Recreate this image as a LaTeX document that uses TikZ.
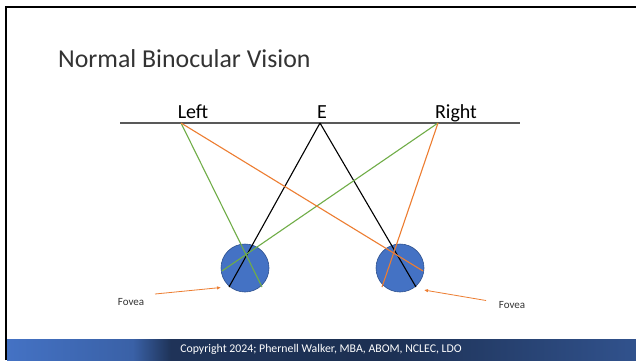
\documentclass[tikz,border=0pt]{standalone}
\usepackage{fontspec}
\setmainfont{Carlito}
\usetikzlibrary{arrows.meta}

\definecolor{eyeblue}{HTML}{4472C4}
\definecolor{eyeedge}{HTML}{2F528F}
\definecolor{raygreen}{HTML}{70AD47}
\definecolor{rayorange}{HTML}{ED7D31}
\definecolor{planegray}{HTML}{595959}
\definecolor{titlegray}{HTML}{333333}

% footer band: bright blue on the left, deep navy through the middle
\pgfdeclarehorizontalshading{footerband}{100bp}{%
  color(0bp)=(eyeblue); color(25bp)=(eyeblue);
  color(35bp)=(eyeblue!85!black); color(38bp)=(eyeblue!45!black);
  color(55bp)=(eyeblue!42!black); color(75bp)=(eyeblue!72!black);
  color(100bp)=(eyeblue!72!black)}

\tikzset{
  eye/.style={circle, draw=eyeedge, line width=0.6pt, fill=eyeblue,
              minimum size=48pt, inner sep=0pt},
  lbl/.style={font=\fontsize{20}{24}\selectfont, anchor=base, inner sep=0pt},
  ray/.style={line width=1.1pt},
  fovealbl/.style={font=\fontsize{11}{13}\selectfont, text=titlegray, inner sep=0pt},
  pointer/.style={rayorange, line width=0.8pt, -{Latex[length=4pt,width=3.5pt]}},
}

\begin{document}
\begin{tikzpicture}[x=1pt, y=-1pt]
  \useasboundingbox (0,0) rectangle (636,360);
  \fill[white] (0,0) rectangle (636,360);

  % slide frame and footer
  \shade[shading=footerband] (7,339) rectangle (636,360);
  \draw[line width=2pt, black] (6,360) -- (6,7) -- (636,7);
  \node[text=white, font=\fontsize{11.8}{14}\selectfont, inner sep=0pt] (copy) at (321,349)
    {Copyright 2024; Phernell Walker, MBA, ABOM, NCLEC, LDO};

  % title
  \node[anchor=base west, inner sep=0pt, text=titlegray,
        font=\fontsize{25.8}{31}\selectfont] (title) at (58,67) {Normal Binocular Vision};

  % object plane
  \coordinate (planeL) at (120,123);
  \coordinate (planeR) at (520,123);
  \draw[planegray, line width=1.3pt] (planeL) -- (planeR);
  \node[lbl] (leftlbl) at (193,118) {Left};
  \node[lbl] (elbl) at (322,118) {E};
  \node[lbl] (rightlbl) at (456,118) {Right};

  \coordinate (ptL) at (181,123);
  \coordinate (ptE) at (320,123);
  \coordinate (ptR) at (438,123);

  % eyes
  \node[eye] (eyeL) at (245,268) {};
  \node[eye] (eyeR) at (400,268) {};

  % ray end points on the eyes
  \coordinate (eLblack) at (229,287);
  \coordinate (eLgreen) at (262,287);
  \coordinate (eLcross) at (222,271);
  \coordinate (eRblack) at (416,287);
  \coordinate (eRorange) at (382,287);
  \coordinate (eRcross) at (423,271);

  % rays
  \draw[ray, black] (ptE) -- (eLblack);
  \draw[ray, black] (ptE) -- (eRblack);
  \draw[ray, raygreen] (ptL) -- (eLgreen);
  \draw[ray, raygreen] (ptR) -- (eLcross);
  \draw[ray, rayorange] (ptL) -- (eRcross);
  \draw[ray, rayorange] (ptR) -- (eRorange);

  % fovea labels
  \node[fovealbl] (fovL) at (131,302) {Fovea};
  \node[fovealbl] (fovR) at (512,305) {Fovea};
  \coordinate (fovLtail) at (155,294);
  \coordinate (fovLtip) at (221,287.5);
  \coordinate (fovRtail) at (486,300.5);
  \coordinate (fovRtip) at (424,290);
  \draw[pointer] (fovLtail) -- (fovLtip);
  \draw[pointer] (fovRtail) -- (fovRtip);
\end{tikzpicture}
\end{document}
